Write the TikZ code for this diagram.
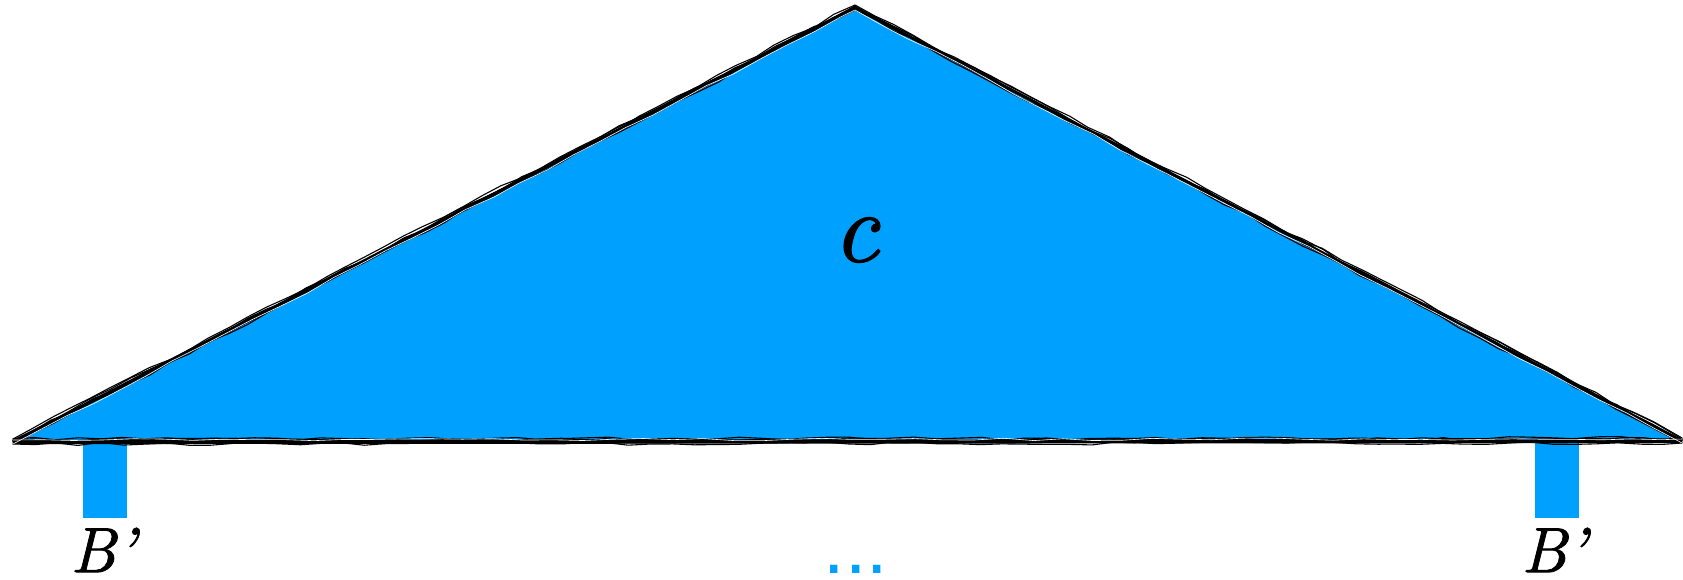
\documentclass[tikz,border=0pt]{standalone}
\usepackage{fontspec}
\newfontfamily\dotsfont{Liberation Sans}
\newfontfamily\lmit{lmroman10-italic.otf}[FakeBold=1.2]
\usetikzlibrary{decorations.pathmorphing}
\definecolor{skyblue}{RGB}{0,160,255}
\tikzset{
  sketch/.style={draw=black, line width=1.1pt, line cap=round, line join=round,
    decorate, decoration={random steps, segment length=22pt, amplitude=1.6pt}},
  sketchw/.style={draw=white, line width=0.6pt, line cap=round,
    decorate, decoration={random steps, segment length=30pt, amplitude=1.2pt}},
  post/.style={fill=skyblue, draw=none},
  lbl/.style={inner sep=0pt, font=\lmit\fontsize{64}{64}\selectfont},
}
\begin{document}
\begin{tikzpicture}[x=1pt, y=-1pt]
\useasboundingbox (0,0) rectangle (1683,579);
\coordinate (A) at (855,8);
\coordinate (L) at (13,442);
\coordinate (R) at (1682,441);
% posts
\fill[post] (83,440) rectangle (127,518);
\fill[post] (1535,440) rectangle (1579,518);
% triangle fill
\fill[skyblue] (L) -- (A) -- (R) -- cycle;
% main outline
\draw[line width=3.4pt, line join=round] (A) -- (L);
\draw[line width=4.2pt] (L) -- (R);
\draw[line width=3pt] (A) -- (R);
% sketchy strokes
\foreach \s/\d in {11/0.0,23/2.0,37/-2.0,41/3.0,53/1.0}{
  \pgfmathsetseed{\s}
  \draw[sketch] ([yshift=\d pt]L) -- ([yshift=\d pt]A);
  \draw[sketch] ([yshift=\d pt]A) -- ([yshift=\d pt]R);
  \draw[sketch] ([yshift=\d pt]L) -- ([yshift=\d pt]R);
}
\pgfmathsetseed{7}
\draw[sketchw] ([yshift=2pt]L) -- ([yshift=2pt]R);
\draw[sketchw] ([yshift=-2pt]A) -- ([yshift=-2pt]R);
\draw[sketchw] ([yshift=-2pt]L) -- ([yshift=-2pt]A);
% labels
\node[inner sep=0pt, font=\lmit\fontsize{100}{100}\selectfont] (c) at (856,240) {c};
\node[lbl] (b1) at (103,550) {B’};
\node[lbl] (b2) at (1554,550) {B’};
\node[inner sep=0pt, text=skyblue, font=\dotsfont\fontsize{77}{77}\selectfont] (dots) at (856,569) {...};
\end{tikzpicture}
\end{document}
